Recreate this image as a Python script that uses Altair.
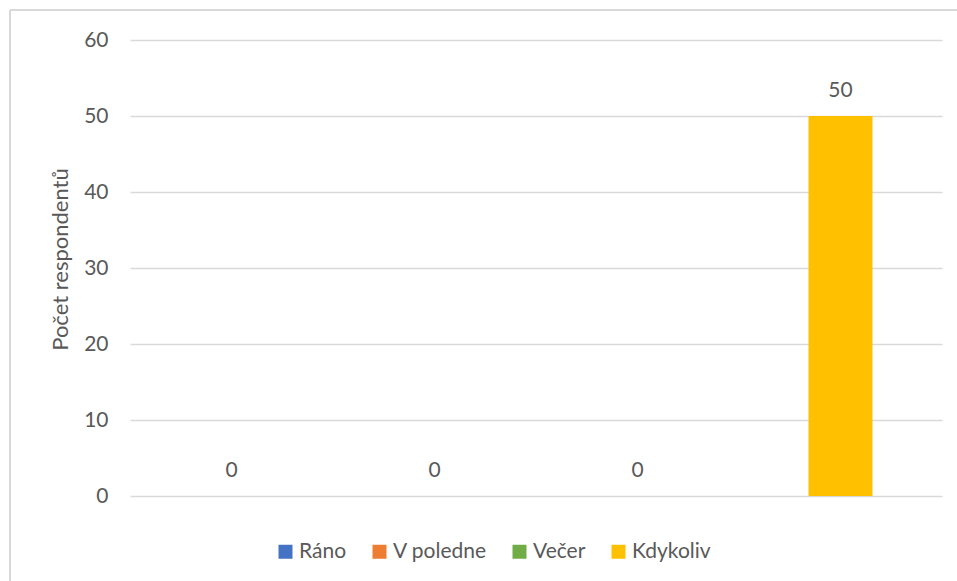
import altair as alt
import pandas as pd

# Preferred time of day and number of respondents for each answer
categories = ["Ráno", "V poledne", "Večer", "Kdykoliv"]
counts = [0, 0, 0, 50]
colors = ["#4472C4", "#ED7D31", "#70AD47", "#FFC000"]

df = pd.DataFrame({"kdy": categories, "pocet": counts})

FONT = "Lato"
TEXT = "#595959"
GRID = "#D9D9D9"

x_enc = alt.X(
    "kdy:N",
    sort=categories,
    axis=None,
    scale=alt.Scale(paddingInner=0.685, paddingOuter=0.3425),
)
y_scale = alt.Scale(domain=[0, 60], nice=False)

bars = alt.Chart(df).mark_bar(size=64).encode(
    x=x_enc,
    y=alt.Y(
        "pocet:Q",
        scale=y_scale,
        axis=alt.Axis(
            values=[0, 10, 20, 30, 40, 50, 60],
            title="Počet respondentů",
            titleFont=FONT,
            titleFontSize=22,
            titleFontWeight="normal",
            titleColor=TEXT,
            titleAngle=270,
            titleX=-70,
            titleY=219,
            titleAlign="center",
            titleBaseline="middle",
            labelFont=FONT,
            labelFontSize=21,
            labelColor=TEXT,
            labelPadding=22,
            ticks=False,
            domain=False,
            gridColor=GRID,
            gridWidth=1.3,
        ),
    ),
    color=alt.Color(
        "kdy:N",
        sort=categories,
        scale=alt.Scale(domain=categories, range=colors),
        legend=alt.Legend(
            title=None,
            orient="none",
            direction="horizontal",
            legendX=145,
            legendY=501,
            symbolType="square",
            symbolSize=196,
            symbolStrokeWidth=0,
            symbolOffset=0,
            labelFont=FONT,
            labelFontSize=21,
            labelColor=TEXT,
            labelOffset=3,
            columnPadding=22,
        ),
    ),
)

labels = alt.Chart(df).mark_text(
    font=FONT, fontSize=21, color=TEXT, baseline="bottom", dy=-15
).encode(
    x=alt.X("kdy:N", sort=categories, axis=None),
    y=alt.Y("pocet:Q", scale=y_scale),
    text="pocet:Q",
)

# Light frame lines along the left and top edges of the chart area
frame_left = alt.Chart(df).mark_rule(color=GRID, strokeWidth=1.5, clip=False).encode(
    x=alt.value(-120), y=alt.value(-30), y2=alt.value(560)
)
frame_top = alt.Chart(df).mark_rule(color=GRID, strokeWidth=1.5, clip=False).encode(
    x=alt.value(-120), x2=alt.value(840), y=alt.value(-30)
)

chart = (
    alt.layer(frame_left, frame_top, bars, labels)
    .properties(
        width=812,
        height=456,
        background="white",
        autosize=alt.AutoSizeParams(type="none"),
        padding={"left": 130, "top": 40, "right": 15, "bottom": 85},
    )
    .configure_view(strokeWidth=0)
)

chart.save("out.html", embed_options={"renderer": "svg", "actions": False})
